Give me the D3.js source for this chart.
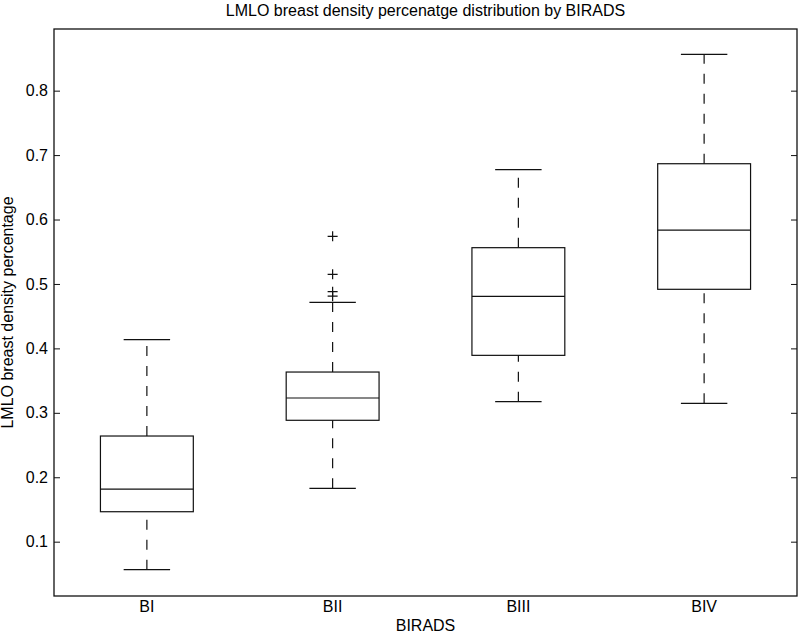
<!DOCTYPE html>
<html><head><meta charset="utf-8">
<script src="https://cdn.jsdelivr.net/npm/d3@7"></script>
<style>body{margin:0;background:#fff}svg{display:block}text{font-family:"Liberation Sans",Arial,sans-serif;fill:#000}</style>
</head><body>
<script>
const categories = ["BI","BII","BIII","BIV"];
const whiskerLow  = [0.0565, 0.1828, 0.3173, 0.3148];
const q1          = [0.1465, 0.2884, 0.3892, 0.4917];
const medians     = [0.1817, 0.3230, 0.4808, 0.5837];
const q3          = [0.2640, 0.3633, 0.5563, 0.6866];
const whiskerHigh = [0.4135, 0.4715, 0.6773, 0.8564];
const outlierCat  = ["BII","BII","BII","BII"];
const outlierVal  = [0.574, 0.515, 0.488, 0.481];
const yTicks = [0.1,0.2,0.3,0.4,0.5,0.6,0.7,0.8];

const W=799,H=634, m={l:54,t:29,r:2,b:38};
const FS=16;
const svg=d3.select("body").append("svg").attr("width",W).attr("height",H);
const x=d3.scaleLinear().domain([0.5,4.5]).range([m.l,W-m.r]);
const y=d3.scaleLinear().domain([0.0157,0.8957]).range([H-m.b,m.t]);
const px=d=>x(categories.indexOf(d)+1);
const bw=x(1.25)-x(1), cw=x(1.125)-x(1);
const ink="#111";

const yl=d3.axisLeft(y).tickValues(yTicks).tickSize(-6).tickPadding(12).tickFormat(d3.format(".1f"));
const yr=d3.axisRight(y).tickValues(yTicks).tickSize(-6).tickFormat("");
const gl=svg.append("g").attr("transform",`translate(${x(0.5)},0)`).call(yl);
const gr=svg.append("g").attr("transform",`translate(${x(4.5)},0)`).call(yr);
[gl,gr].forEach(g=>{g.select(".domain").remove();g.selectAll("line").attr("stroke",ink);g.selectAll("text").attr("font-size",FS).attr("fill","#000").style("font-family","Liberation Sans, Arial, sans-serif");});
gl.selectAll("text").attr("x",-6);
const xb=d3.axisBottom(d3.scaleBand().domain(categories).range([x(0.5),x(4.5)])).tickSize(0).tickPadding(5);
const gx=svg.append("g").attr("transform",`translate(0,${y.range()[0]})`).call(xb);
gx.select(".domain").remove();
gx.selectAll("text").attr("font-size",FS).attr("fill","#000").style("font-family","Liberation Sans, Arial, sans-serif");

svg.append("rect").attr("x",x(0.5)).attr("y",y.range()[1]).attr("width",x(4.5)-x(0.5)).attr("height",y.range()[0]-y.range()[1])
  .attr("fill","none").attr("stroke",ink).attr("stroke-width",1.3);

const g=svg.append("g").attr("stroke",ink).attr("stroke-width",1.2).attr("fill","none");
categories.forEach((c,i)=>{
  const cx=px(c);
  g.append("line").attr("x1",cx).attr("x2",cx).attr("y1",y(whiskerLow[i])).attr("y2",y(q1[i])).attr("stroke-dasharray","10,10");
  g.append("line").attr("x1",cx).attr("x2",cx).attr("y1",y(q3[i])).attr("y2",y(whiskerHigh[i])).attr("stroke-dasharray","10,10");
  g.append("line").attr("x1",cx-cw).attr("x2",cx+cw).attr("y1",y(whiskerLow[i])).attr("y2",y(whiskerLow[i]));
  g.append("line").attr("x1",cx-cw).attr("x2",cx+cw).attr("y1",y(whiskerHigh[i])).attr("y2",y(whiskerHigh[i]));
  g.append("rect").attr("x",cx-bw).attr("width",2*bw).attr("y",y(q3[i])).attr("height",y(q1[i])-y(q3[i]));
  g.append("line").attr("x1",cx-bw).attr("x2",cx+bw).attr("y1",y(medians[i])).attr("y2",y(medians[i]));
});
outlierVal.forEach((v,i)=>{
  const cx=px(outlierCat[i]), cy=y(v), s=5;
  g.append("path").attr("d",`M${cx-s},${cy}H${cx+s}M${cx},${cy-s}V${cy+s}`);
});

svg.append("text").attr("x",(x(0.5)+x(4.5))/2).attr("y",15.5).attr("text-anchor","middle").attr("font-size",FS).text("LMLO breast density percenatge distribution by BIRADS");
svg.append("text").attr("x",(x(0.5)+x(4.5))/2).attr("y",630.5).attr("text-anchor","middle").attr("font-size",FS).text("BIRADS");
svg.append("text").attr("transform",`translate(13,${(y.range()[0]+y.range()[1])/2}) rotate(-90)`).attr("text-anchor","middle").attr("font-size",FS).text("LMLO breast density percentage");
</script>
</body></html>
